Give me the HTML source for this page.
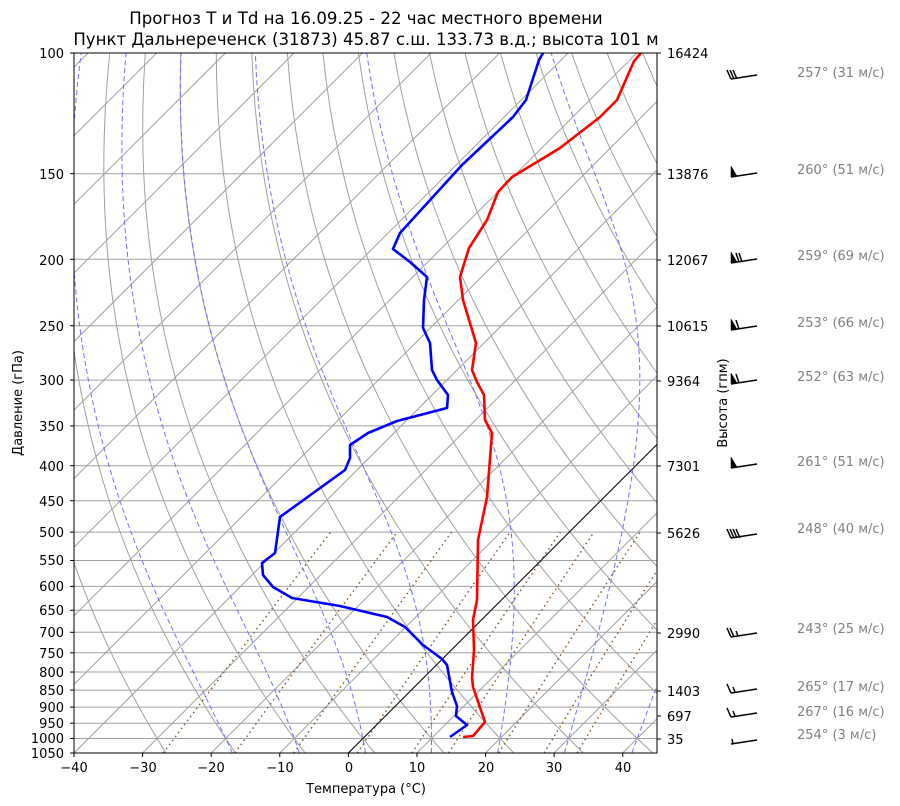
<!DOCTYPE html>
<html><head><meta charset="utf-8"><style>
html,body{margin:0;padding:0;background:#fff;}
svg{display:block;font-family:"DejaVu Sans","Liberation Sans",sans-serif;}
</style></head><body>
<svg id="s" width="900" height="806" xmlns="http://www.w3.org/2000/svg">
<defs><clipPath id="cp"><rect x="74" y="53" width="583" height="700"/></clipPath></defs>
<g id="plot" clip-path="url(#cp)"></g>
<rect x="74" y="53" width="583" height="700" fill="none" stroke="#000" stroke-width="1"/>
<g id="ticks"></g>
<g font-size="13" fill="#000">
<text x="366" y="24" text-anchor="middle" font-size="16.6">Прогноз T и Td на 16.09.25 - 22 час местного времени</text>
<text x="366" y="45" text-anchor="middle" font-size="16.6">Пункт Дальнереченск (31873) 45.87 с.ш. 133.73 в.д.; высота 101 м</text>
<text x="366" y="793" text-anchor="middle">Температура (°C)</text>
<text transform="translate(22,403) rotate(-90)" text-anchor="middle">Давление (гПа)</text>
<text transform="translate(727,403) rotate(-90)" text-anchor="middle">Высота (гпм)</text>
<g text-anchor="start">
<text x="667" y="58">16424</text><text x="667" y="179">13876</text><text x="667" y="265">12067</text>
<text x="667" y="331">10615</text><text x="667" y="386">9364</text><text x="667" y="471">7301</text>
<text x="667" y="538">5626</text><text x="667" y="638">2990</text><text x="667" y="696">1403</text>
<text x="667" y="721">697</text><text x="667" y="744">35</text>
</g>
<g text-anchor="end">
<text x="64" y="58">100</text><text x="64" y="179">150</text><text x="64" y="265">200</text><text x="64" y="331">250</text>
<text x="64" y="385">300</text><text x="64" y="431">350</text><text x="64" y="471">400</text><text x="64" y="506">450</text>
<text x="64" y="537">500</text><text x="64" y="565">550</text><text x="64" y="591">600</text><text x="64" y="615">650</text>
<text x="64" y="637">700</text><text x="64" y="658">750</text><text x="64" y="677">800</text><text x="64" y="695">850</text>
<text x="64" y="712">900</text><text x="64" y="728">950</text><text x="64" y="743">1000</text><text x="64" y="758">1050</text>
</g>
<g text-anchor="middle">
<text x="74" y="772">−40</text><text x="143" y="772">−30</text><text x="211" y="772">−20</text><text x="280" y="772">−10</text>
<text x="349" y="772">0</text><text x="417" y="772">10</text><text x="486" y="772">20</text><text x="554" y="772">30</text><text x="623" y="772">40</text>
</g>
<g fill="#808080">
<text x="797" y="77">257° (31 м/с)</text><text x="797" y="174">260° (51 м/с)</text><text x="797" y="260">259° (69 м/с)</text>
<text x="797" y="327">253° (66 м/с)</text><text x="797" y="381">252° (63 м/с)</text><text x="797" y="466">261° (51 м/с)</text>
<text x="797" y="533">248° (40 м/с)</text><text x="797" y="633">243° (25 м/с)</text><text x="797" y="691">265° (17 м/с)</text>
<text x="797" y="716">267° (16 м/с)</text><text x="797" y="739">254° (3 м/с)</text>
</g>
</g>
<g id="barbs" stroke="#000" stroke-width="1.5" fill="#000"></g>
</svg>
<script>
(function(){
var NS="http://www.w3.org/2000/svg";
var plot=document.getElementById("plot"),ticks=document.getElementById("ticks"),barbs=document.getElementById("barbs");
function el(par,tag,at){var e=document.createElementNS(NS,tag);for(var k in at)e.setAttribute(k,at[k]);par.appendChild(e);return e;}
function Y(p){return 753-297.7*Math.log(1050/p);}
function X(T,y){return 74+(T+40)*6.859+(753-y);}
function path(pts,st){var d="";for(var i=0;i<pts.length;i++)d+=(i?"L":"M")+pts[i][0].toFixed(1)+","+pts[i][1].toFixed(1);el(plot,"path",Object.assign({d:d,fill:"none"},st));}
var plev=[100,150,200,250,300,350,400,450,500,550,600,650,700,750,800,850,900,950,1000,1050];
plev.forEach(function(p){var y=Y(p);path([[74,y],[657,y]],{stroke:"#a0a0a0","stroke-width":1});
el(ticks,"line",{x1:70,y1:y,x2:74,y2:y,stroke:"#000"});});
[53,174,260,326,381,466,533,633,691,716,739].forEach(function(y){el(ticks,"line",{x1:657,y1:y,x2:661,y2:y,stroke:"#000"});});
for(var T=-40;T<=40;T+=10){var x=X(T,753);el(ticks,"line",{x1:x,y1:753,x2:x,y2:757,stroke:"#000"});}
for(var T=-140;T<=50;T+=10){path([[X(T,753),753],[X(T,53),53]],{stroke:"#a0a0a0","stroke-width":1});}
for(var t0=-30;t0<=200;t0+=10){var th=t0+273.15,pts=[];for(var p=1050;p>=100;p-=10){var Tk=th*Math.pow(p/1000,0.2857);var y=Y(p);pts.push([X(Tk-273.15,y),y]);}path(pts,{stroke:"#a0a0a0","stroke-width":1});}
function dTdp(p,T){var es=6.112*Math.exp(17.67*(T-273.15)/(T-29.65));var rs=0.622*es/(p-es);return (287.04*T+2.501e6*rs)/(p*(1004.6+2.501e6*2.501e6*rs*0.622/(287.04*T*T)));}
for(var t0=-20;t0<=40;t0+=10){var up=[],T=t0+273.15,p=1000;up.push([p,T]);while(p>100){var h=-2;var k1=dTdp(p,T),k2=dTdp(p+h/2,T+h/2*k1),k3=dTdp(p+h/2,T+h/2*k2),k4=dTdp(p+h,T+h*k3);T+=h/6*(k1+2*k2+2*k3+k4);p+=h;up.push([p,T]);}
T=t0+273.15;p=1000;var dn=[];while(p<1050){var h=2;var k1=dTdp(p,T),k2=dTdp(p+h/2,T+h/2*k1),k3=dTdp(p+h/2,T+h/2*k2),k4=dTdp(p+h,T+h*k3);T+=h/6*(k1+2*k2+2*k3+k4);p+=h;dn.push([p,T]);}
var all=dn.reverse().concat(up).map(function(a){var y=Y(a[0]);return [X(a[1]-273.15,y),y];});
path(all,{stroke:"#7070ff","stroke-width":1,"stroke-dasharray":"5,3"});}
[0.0004,0.001,0.002,0.004,0.007,0.01,0.016,0.024,0.032].forEach(function(w){var pts=[];for(var p=1050;p>=500;p-=10){var e=w*p/(0.622+w);var l=Math.log(e/6.112);var Td=243.5*l/(17.67-l);var y=Y(p);pts.push([X(Td,y),y]);}path(pts,{stroke:"#8b5a2b","stroke-width":1.5,"stroke-dasharray":"1.5,3.5"});});
path([[X(0,753),753],[X(0,53),53]],{stroke:"#000","stroke-width":1});
var red=[[641,53],[634,61],[617,100],[600,117],[560,148],[537,162],[512,177],[498,192],[487,220],[469,248],[460,277],[463,300],[476,343],[472,370],[477,382],[484,395],[485,420],[492,433],[487,497],[478,540],[477,600],[473,620],[474,650],[472,678],[473,687],[485,722],[473,736],[463,737]];
var blue=[[543,53],[539,60],[526,100],[513,117],[462,165],[400,233],[393,249],[410,262],[427,277],[424,300],[423,328],[430,343],[432,370],[437,380],[448,395],[447,408],[397,421],[368,433],[350,445],[350,458],[345,470],[280,517],[275,553],[262,563],[263,575],[273,587],[292,598],[340,606],[387,617],[405,627],[423,645],[442,659],[447,665],[452,692],[457,706],[456,716],[467,725],[450,737]];
path(red,{stroke:"#ff0000","stroke-width":2.6,"stroke-linejoin":"round"});
path(blue,{stroke:"#0000ff","stroke-width":2.6,"stroke-linejoin":"round"});
var B=[[76,"3f"],[174,"p"],[260,"p2"],[327,"p1"],[381,"p1"],[465,"p"],[535,"4"],[634,"2h"],[690,"1h"],[714,"1h"],[741,"h"]];
B.forEach(function(b){var y=b[0],x0=731,x1=757;el(barbs,"line",{x1:x0,y1:y+3,x2:x1,y2:y-1});
var t=b[1];
if(t[0]=="p"){el(barbs,"polygon",{points:(x0)+","+(y+3)+" "+(x0)+","+(y-8)+" "+(x0+6)+","+(y+2),"stroke-width":0.5});var n=t.length>1?+t[1]:0;for(var i=0;i<n;i++){var xx=x0+8+i*3;el(barbs,"line",{x1:xx,y1:y+2,x2:xx-3,y2:y-7});}}
else if(t=="h"){el(barbs,"line",{x1:x0+2,y1:y+3,x2:x0+1,y2:y-2});}
else{var n=parseInt(t);for(var i=0;i<n;i++){var xx=x0+i*3;el(barbs,"line",{x1:xx,y1:y+3,x2:xx-4,y2:y-6});}
if(t.indexOf("h")>0){var xx=x0+n*3+1;el(barbs,"line",{x1:xx,y1:y+2,x2:xx-2,y2:y-3});}}
});
})();
</script>
</body></html>
